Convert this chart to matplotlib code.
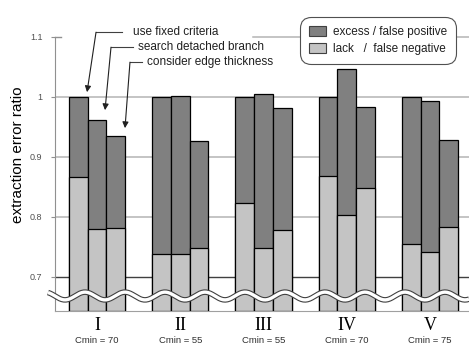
import numpy as np
import matplotlib.pyplot as plt
import matplotlib.transforms as mtransforms
from matplotlib.patches import Patch

# data
groups = ['I', 'II', 'III', 'IV', 'V']
cmin = ['Cmin = 70', 'Cmin = 55', 'Cmin = 55', 'Cmin = 70', 'Cmin = 75']
methods = ['use fixed criteria', 'search detached branch', 'consider edge thickness']
# total error (excess + lack) per method, per group
total = np.array([[1.000, 0.962, 0.935],
                  [1.000, 1.002, 0.927],
                  [1.000, 1.005, 0.982],
                  [1.000, 1.047, 0.983],
                  [1.000, 0.993, 0.928]])
# lack / false negative part
lack = np.array([[0.867, 0.780, 0.782],
                 [0.738, 0.738, 0.748],
                 [0.823, 0.748, 0.778],
                 [0.868, 0.803, 0.848],
                 [0.755, 0.742, 0.783]])

dark = '#808080'
light = '#c4c4c4'
ymin, ymax = 0.643, 1.1

plt.rcParams['font.family'] = ['Liberation Sans', 'DejaVu Sans']

fig = plt.figure(figsize=(4.69, 3.46), dpi=100)
ax = fig.add_axes([55 / 469, 1 - 311 / 346, 414 / 469, 274 / 346])

x = np.arange(len(groups))
w = 0.225
for i in range(3):
    pos = x + (i - 1) * w
    ax.bar(pos, total[:, i] - ymin, bottom=ymin, width=w, color=dark,
           edgecolor='black', linewidth=0.9, zorder=3)
    ax.bar(pos, lack[:, i] - ymin, bottom=ymin, width=w, color=light,
           edgecolor='black', linewidth=0.9, zorder=3)

ax.set_xlim(-0.505, 4.47)
ax.set_ylim(ymin, ymax)

# grid lines
for v in [0.8, 0.9, 1.0]:
    ax.axhline(v, color='#b4b4b4', lw=1.1, zorder=1)
ax.axhline(0.7, color='#404040', lw=1.0, zorder=1)
ax.axhline(1.1, xmin=0.478, xmax=1, color='#b4b4b4', lw=1.1, zorder=1, clip_on=False)
ax.axhline(1.1, xmin=0, xmax=0.014, color='#909090', lw=1.0, zorder=1, clip_on=False)

for s in ['top', 'right']:
    ax.spines[s].set_visible(False)
ax.spines['left'].set_color('#909090')
ax.spines['bottom'].set_color('#a0a0a0')

ax.set_yticks([0.7, 0.8, 0.9, 1.0, 1.1])
ax.set_yticklabels(['0.7', '0.8', '0.9', '1', '1.1'])
ax.tick_params(axis='y', length=3, color='#909090', labelsize=6.5,
               labelcolor='#505050', pad=6)
ax.set_xticks(x)
ax.set_xticklabels(groups, family='Liberation Serif', fontsize=13)
ax.tick_params(axis='x', length=0, pad=4)

tr = mtransforms.blended_transform_factory(ax.transData, ax.transAxes)
for xi, c in zip(x, cmin):
    ax.text(xi, -0.106, c, transform=tr, ha='center', va='center',
            fontsize=6.8, color='#303030')

ax.set_ylabel('extraction error ratio', fontsize=11)
ax.yaxis.set_label_coords(-0.072, 0.57)

# break mark (wavy line)
wx = np.linspace(-0.017, 1.0, 400)
wy = 0.668 + 0.0065 * np.sin(2 * np.pi * (wx * 414 - 20) / 40)
trw = mtransforms.blended_transform_factory(ax.transAxes, ax.transData)
ax.plot(wx, wy, color='#404040', lw=4.0, transform=trw, clip_on=False,
        zorder=5, solid_capstyle='butt')
ax.plot(wx, wy, color='white', lw=2.4, transform=trw, clip_on=False,
        zorder=6, solid_capstyle='butt')

# method annotations
tips = [(-0.12, 1.008), (0.096, 0.978), (0.336, 0.948)]
corners = [(-0.012, 1.108), (0.168, 1.083), (0.396, 1.058)]
lead_end = [0.30, 0.43, 0.54]
text_x = [0.43, 0.49, 0.60]
for m, tip, cor, le, tx in zip(methods, tips, corners, lead_end, text_x):
    ax.plot([le, cor[0]], [cor[1], cor[1]], color='#404040', lw=0.8,
            clip_on=False, zorder=7)
    ax.annotate('', xy=tip, xytext=cor,
                arrowprops=dict(arrowstyle='-|>', color='#202020', lw=0.8,
                                mutation_scale=9, shrinkA=0, shrinkB=0),
                annotation_clip=False, zorder=7)
    ax.text(tx, cor[1], m, fontsize=8.5, ha='left', va='center',
            color='#202020', zorder=8)

handles = [Patch(facecolor=dark, edgecolor='#404040', lw=0.8),
           Patch(facecolor=light, edgecolor='#404040', lw=0.8)]
leg = fig.legend(handles, ['excess / false positive', 'lack   /  false negative'],
                 loc='upper right', bbox_to_anchor=(0.9765, 0.9566),
                 fontsize=8.5, handlelength=1.4, handleheight=0.9,
                 handletextpad=0.6, borderpad=0.45, labelspacing=0.4,
                 fancybox=True, framealpha=1)
leg.get_frame().set_edgecolor('#505050')
leg.get_frame().set_linewidth(0.8)
leg.get_frame().set_boxstyle('round,pad=0.3,rounding_size=0.9')
for t in leg.get_texts():
    t.set_color('#202020')

fig.savefig('out.png', dpi=100)
